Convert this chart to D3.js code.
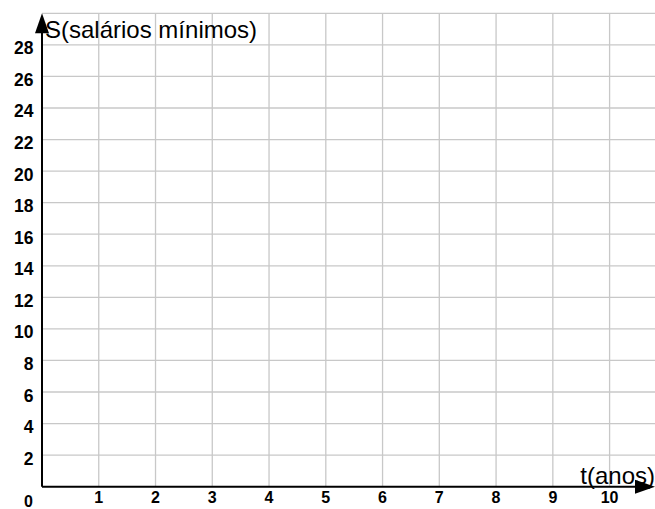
<!DOCTYPE html>
<html>
<head>
<meta charset="utf-8">
<title>S x t</title>
<style>
  body { margin: 0; background: #fff; }
  svg { display: block; font-family: "Liberation Sans", Arial, sans-serif; }
  .grid line { stroke: #c8c8c8; stroke-width: 1.3; }
  .tick-label { font-weight: bold; fill: #000; }
  .ylab { font-size: 17.5px; }
  .xlab { font-size: 16px; }
  .axis-title { font-size: 24px; fill: #000; }
</style>
<script src="https://d3js.org/d3.v7.min.js"></script>
</head>
<body>
<svg id="chart" width="655" height="509"></svg>
<script>
// axis ranges and tick values
const xDomain = [0, 10.8];
const yDomain = [0, 30];
const xTicks = [1, 2, 3, 4, 5, 6, 7, 8, 9, 10];
const yTicks = [2, 4, 6, 8, 10, 12, 14, 16, 18, 20, 22, 24, 26, 28];
const yGrid = [2, 4, 6, 8, 10, 12, 14, 16, 18, 20, 22, 24, 26, 28, 30];
const xTitle = "t(anos)";
const yTitle = "S(salários mínimos)";

const svg = d3.select("#chart");
const plotL = 42, plotR = 655, plotT = 13.3, plotB = 486.7;

const x = d3.scaleLinear().domain(xDomain).range([plotL, plotR]);
const y = d3.scaleLinear().domain(yDomain).range([plotB, plotT]);

// grid
const grid = svg.append("g").attr("class", "grid");
grid.selectAll("line.h").data(yGrid).enter().append("line")
  .attr("class", "h")
  .attr("x1", plotL).attr("x2", plotR)
  .attr("y1", d => y(d)).attr("y2", d => y(d));
grid.selectAll("line.v").data(xTicks).enter().append("line")
  .attr("class", "v")
  .attr("x1", d => x(d)).attr("x2", d => x(d))
  .attr("y1", plotT).attr("y2", plotB);

// axes
svg.append("line")
  .attr("x1", x(0)).attr("x2", plotR - 10)
  .attr("y1", y(0)).attr("y2", y(0))
  .attr("stroke", "#000").attr("stroke-width", 2);
svg.append("line")
  .attr("x1", x(0)).attr("x2", x(0))
  .attr("y1", y(0)).attr("y2", plotT + 10)
  .attr("stroke", "#000").attr("stroke-width", 2);

// arrow heads
svg.append("path")
  .attr("d", `M${x(0)},${plotT} L${x(0) - 7},${plotT + 20} L${x(0) + 7},${plotT + 20} Z`)
  .attr("fill", "#000");
svg.append("path")
  .attr("d", `M${plotR},${y(0)} L${plotR - 20},${y(0) - 7} L${plotR - 20},${y(0) + 7} Z`)
  .attr("fill", "#000");

// tick labels
svg.selectAll("text.ylab").data(yTicks).enter().append("text")
  .attr("class", "tick-label ylab")
  .attr("x", 33.5).attr("y", d => y(d) + 9.5)
  .attr("text-anchor", "end")
  .text(d => d);
svg.selectAll("text.xlab").data(xTicks).enter().append("text")
  .attr("class", "tick-label xlab")
  .attr("x", d => x(d)).attr("y", 503)
  .attr("text-anchor", "middle")
  .text(d => d);
svg.append("text")
  .attr("class", "tick-label xlab")
  .attr("x", 28.5).attr("y", 507)
  .attr("text-anchor", "middle")
  .text(0);

// axis titles
svg.append("text").attr("class", "axis-title")
  .attr("x", 45).attr("y", 38)
  .text(yTitle);
svg.append("text").attr("class", "axis-title")
  .attr("x", 655).attr("y", 484)
  .attr("text-anchor", "end")
  .text(xTitle);
</script>
</body>
</html>
